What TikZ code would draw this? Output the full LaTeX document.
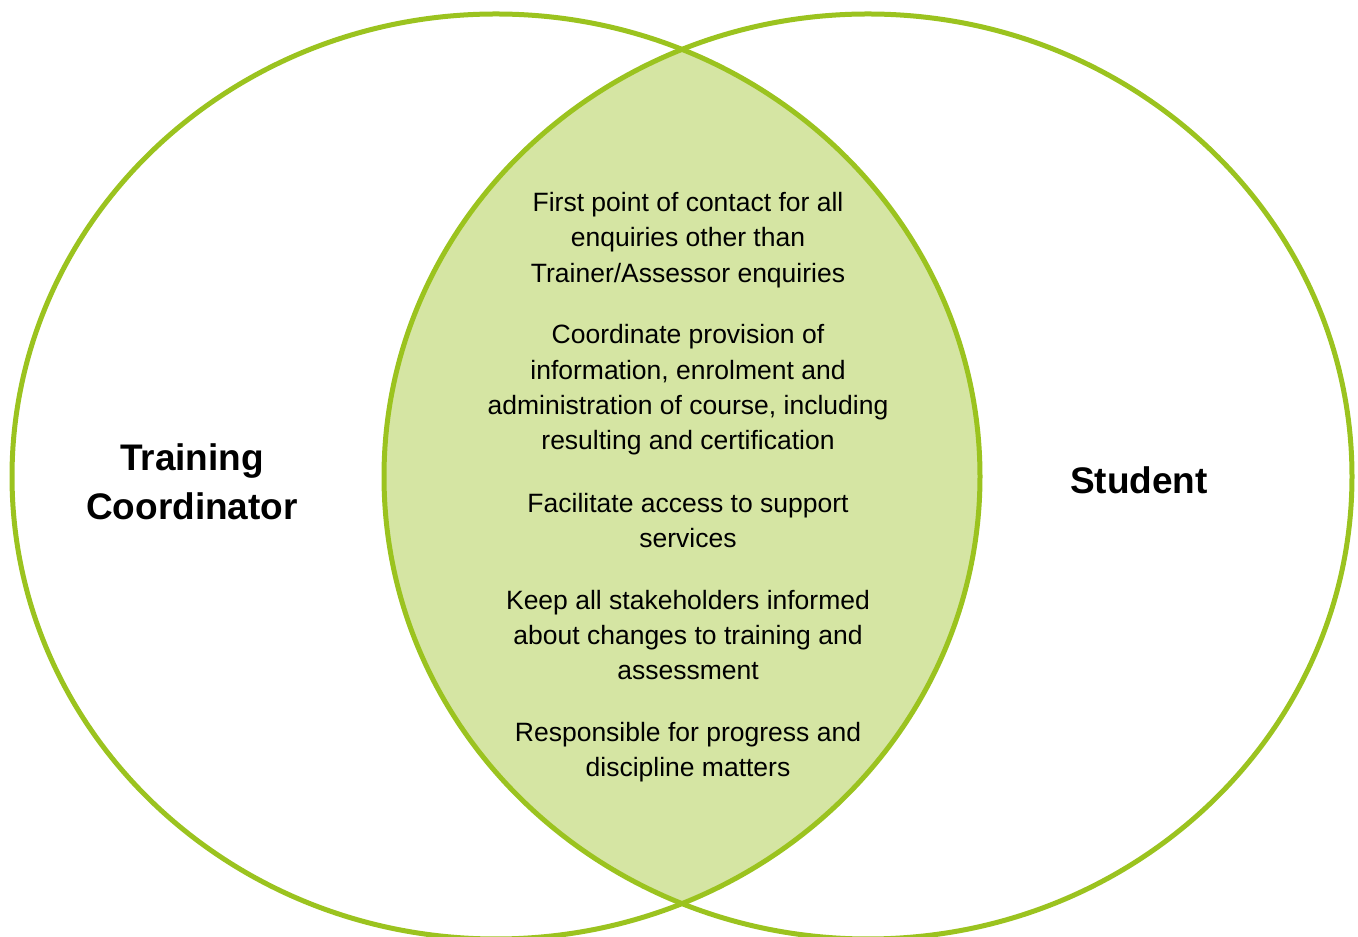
\documentclass[tikz,border=0pt]{standalone}
\usepackage{fontspec}
\setmainfont{Liberation Sans}
\definecolor{ringgreen}{HTML}{9BC31F}
\definecolor{lensgreen}{HTML}{D5E5A3}

\begin{document}
\begin{tikzpicture}[x=1pt, y=1pt,
            ring/.style={
                draw=ringgreen, line width=5pt
            },
            rolename/.style={
                font=\fontsize{37}{49}\selectfont\bfseries, align=center
            },
            duty/.style={
                font=\fontsize{26.5}{35.3}\selectfont, align=center
            }
        ]
        \useasboundingbox (0,0) rectangle (1358,937);
        \clip (0,0) rectangle (1358,937);
        \coordinate (coord) at (496, 460.5);
        \coordinate (stud) at (868, 460.5);

        % shared area
        \begin{scope}
            \clip (coord) ellipse [x radius=484pt, y radius=462.5pt];
            \fill[lensgreen] (stud) ellipse [x radius=484pt, y radius=462.5pt];
        \end{scope}
        \draw[ring] (coord) ellipse [x radius=484pt, y radius=462.5pt];
        \draw[ring] (stud) ellipse [x radius=484pt, y radius=462.5pt];

        % roles
        \node[rolename] (TC) at (192, 455) {Training\\Coordinator};
        \node[rolename] (S) at (1139, 457) {Student};

        % duties
        \node[duty] (D1) at (688, 697) {First point of contact for all\\enquiries other than\\Trainer/Assessor enquiries};
        \node[duty] (D2) at (688, 547) {Coordinate provision of\\information, enrolment and\\administration of course, including\\resulting and certification};
        \node[duty] (D3) at (688, 416.5) {Facilitate access to support\\services};
        \node[duty] (D4) at (688, 302) {Keep all stakeholders informed\\about changes to training and\\assessment};
        \node[duty] (D5) at (688, 184.5) {Responsible for progress and\\discipline matters};
        \end{tikzpicture}
\end{document}
